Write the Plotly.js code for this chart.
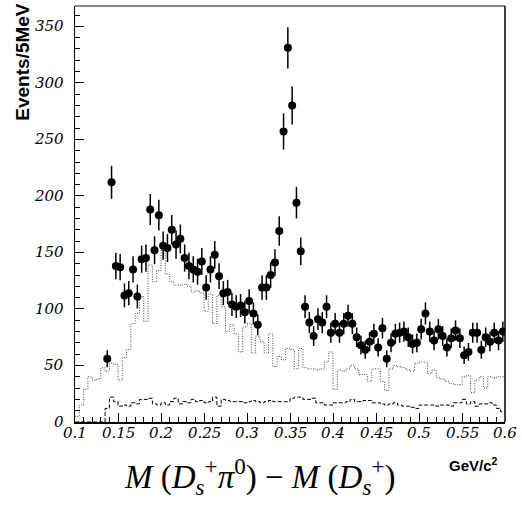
<!DOCTYPE html>
<html><head><meta charset="utf-8">
<script src="https://cdn.plot.ly/plotly-3.0.1.min.js"></script>
<style>html,body{margin:0;padding:0;background:#fff}#chart{width:522px;height:517px}</style>
</head><body><div id="chart"></div>
<script>
// Histogram binning (GeV/c^2)
const binLow = 0.1;
const binWidth = 0.005;
const nBins = 100;
const dataFirstBin = 7; // first filled data bin: 0.135-0.140

// Data points (events per 5 MeV), bins 0.1375 ... 0.5975
const dataCounts = [
  56, 212, 138, 137, 112, 114, 135, 111, 144, 145,
  188, 152, 183, 156, 154, 170, 157, 162, 145, 138,
  135, 133, 142, 119, 135, 148, 129, 114, 115, 104,
  102, 103, 97, 107, 96, 86, 119, 119, 130, 141,
  169, 257, 331, 280, 194, 151, 102, 88, 76, 91,
  88, 102, 79, 87, 79, 87, 94, 87, 75, 68,
  64, 71, 78, 66, 83, 56, 70, 78, 79, 80,
  75, 69, 70, 82, 96, 80, 72, 82, 76, 66,
  74, 81, 74, 59, 62, 79, 79, 64, 75, 71,
  79, 72, 80
];

// Dotted histogram (sideband / background shape), bins 0.1 ... 0.6
const dottedHist = [
  5, 15, 29, 40, 37, 38, 48, 45, 52, 51,
  37, 57, 64, 87, 96, 111, 89, 139, 124, 134,
  153, 131, 124, 121, 121, 122, 120, 115, 116, 114,
  98, 113, 87, 112, 102, 80, 86, 78, 62, 84,
  87, 61, 76, 71, 61, 78, 49, 58, 55, 65,
  64, 47, 65, 48, 47, 47, 46, 47, 53, 62,
  29, 46, 45, 47, 50, 47, 42, 42, 36, 47,
  47, 36, 28, 47, 50, 49, 48, 46, 45, 52,
  53, 53, 43, 46, 39, 38, 36, 34, 33, 33,
  40, 41, 26, 37, 40, 30, 40, 39, 40, 40
];

// Dashed histogram (lower background), bins 0.1 ... 0.6
const dashedHist = [
  0, 0, 0, 0, 0, 0, 0, 12, 22, 18,
  14, 15, 14, 17, 16, 20, 20, 21, 16, 15,
  17, 15, 18, 21, 16, 18, 17, 20, 18, 19,
  17, 18, 22, 14, 20, 19, 18, 18, 18, 17,
  18, 19, 18, 17, 18, 19, 18, 18, 18, 18,
  21, 22, 22, 20, 20, 21, 17, 17, 15, 15,
  17, 17, 17, 18, 20, 18, 18, 19, 19, 17,
  17, 16, 15, 16, 17, 15, 14, 14, 13, 12,
  15, 15, 15, 15, 14, 15, 15, 14, 17, 17,
  20, 16, 18, 14, 16, 16, 17, 15, 12, 9
];

// Tick labels
const xTickVals = [0.1, 0.15, 0.2, 0.25, 0.3, 0.35, 0.4, 0.45, 0.5, 0.55, 0.6];
const xTickLabels = ['0.1', '0.15', '0.2', '0.25', '0.3', '0.35', '0.4', '0.45', '0.5', '0.55', '0.6'];
const yTickVals = [0, 50, 100, 150, 200, 250, 300, 350];
const yTickLabels = ['0', '50', '100', '150', '200', '250', '300', '350'];

const edges = [];
for (let i = 0; i <= nBins; i++) edges.push(+(binLow + i * binWidth).toFixed(4));
const stepY = arr => arr.concat([arr[arr.length - 1]]);
const centers = dataCounts.map((_, i) => +(binLow + (dataFirstBin + i + 0.5) * binWidth).toFixed(5));

const tickFontFam = 'DejaVu Serif';

const traces = [
  {x: edges, y: stepY(dottedHist), type: 'scatter', mode: 'lines',
   line: {shape: 'hv', color: '#444', width: 1, dash: '1px,1.5px'}, hoverinfo: 'skip'},
  {x: edges, y: stepY(dashedHist), type: 'scatter', mode: 'lines',
   line: {shape: 'hv', color: '#000', width: 1, dash: '4px,2px'}, hoverinfo: 'skip'},
  {x: centers, y: dataCounts, type: 'scatter', mode: 'markers',
   marker: {color: '#000', size: 8, symbol: 'circle'},
   error_y: {type: 'sqrt', visible: true, color: '#000', thickness: 1.5, width: 0}}
];

const tickAnnX = xTickVals.map((v, i) => ({
  text: xTickLabels[i], xref: 'x', yref: 'paper', x: v, y: -0.027,
  xanchor: 'center', yanchor: 'middle', showarrow: false,
  font: {family: tickFontFam, size: 15, color: '#000', style: 'italic'}
}));
const tickAnnY = yTickVals.map((v, i) => ({
  text: yTickLabels[i], xref: 'paper', yref: 'y', x: -0.022, y: v,
  xanchor: 'right', yanchor: 'middle', showarrow: false,
  font: {family: tickFontFam, size: 15, color: '#000', style: 'italic'}
}));

const layout = {
  width: 522, height: 517,
  margin: {l: 75, r: 17, t: 6, b: 95},
  paper_bgcolor: '#fff', plot_bgcolor: '#fff',
  font: {family: 'Liberation Serif', size: 16, color: '#000'},
  showlegend: false,
  xaxis: {
    range: [0.1, 0.6], tickmode: 'array', tickvals: xTickVals, showticklabels: false,
    ticks: 'inside', ticklen: 9, tickwidth: 1, tickcolor: '#000',
    minor: {tickmode: 'linear', tick0: 0.1, dtick: 0.01, ticks: 'inside', ticklen: 5, tickcolor: '#000', showgrid: false},
    showline: true, linewidth: 1.5, linecolor: '#000',
    showgrid: false, zeroline: false
  },
  yaxis: {
    range: [0, 368], tickmode: 'array', tickvals: yTickVals, showticklabels: false,
    ticks: 'inside', ticklen: 9, tickwidth: 1, tickcolor: '#000',
    minor: {tickmode: 'linear', tick0: 0, dtick: 10, ticks: 'inside', ticklen: 5, tickcolor: '#000', showgrid: false},
    showline: true, linewidth: 1.5, linecolor: '#000',
    showgrid: false, zeroline: false
  },
  shapes: [
    {type: 'line', xref: 'paper', yref: 'paper', x0: 0, x1: 1, y0: 1, y1: 1, line: {color: '#888', width: 2}},
    {type: 'line', xref: 'paper', yref: 'paper', x0: 1, x1: 1, y0: 0, y1: 1, line: {color: '#000', width: 1.5}}
  ],
  annotations: tickAnnX.concat(tickAnnY, [
    {text: '<b>Events/5MeV</b>', xref: 'paper', yref: 'paper', x: -0.124, y: 1.012,
     xanchor: 'center', yanchor: 'top', textangle: -90, showarrow: false,
     font: {family: 'Liberation Sans', size: 19, color: '#000'}},
    {text: '<b>GeV/c<sup>2</sup></b>', xref: 'paper', yref: 'paper', x: 0.926, y: -0.103,
     xanchor: 'center', yanchor: 'middle', showarrow: false,
     font: {family: 'Liberation Sans', size: 15, color: '#000'}},
    {text: '<i>M</i> (<i>D</i><sub><i>s</i></sub><sup>+</sup><i>π</i><sup>0</sup>) − <i>M</i> (<i>D</i><sub><i>s</i></sub><sup>+</sup>)',
     xref: 'paper', yref: 'paper', x: 0.43, y: -0.132,
     xanchor: 'center', yanchor: 'middle', showarrow: false,
     font: {family: 'Liberation Serif', size: 33, color: '#000'}}
  ])
};

Plotly.newPlot('chart', traces, layout, {displayModeBar: false, staticPlot: true});
</script>
</body></html>
